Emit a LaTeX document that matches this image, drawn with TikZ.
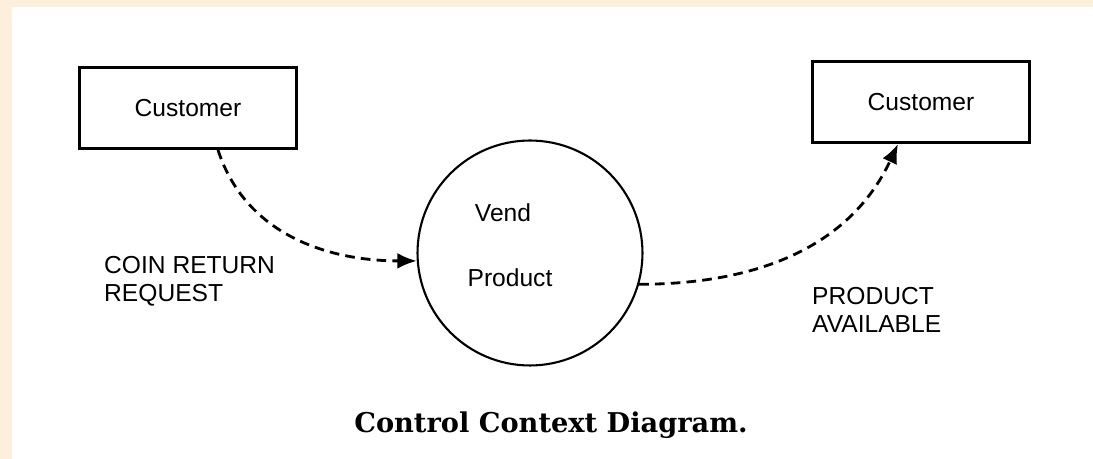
\documentclass[tikz,border=0pt]{standalone}
\usepackage{fontspec}
\setsansfont{Liberation Sans}
\newfontfamily\captionfont{DejaVu Serif}
\usepackage{tikz}
\usetikzlibrary{arrows.meta,positioning,shapes.geometric}
\definecolor{paper}{RGB}{252,239,220}

\begin{document}
\begin{tikzpicture}[
    x=0.02cm, y=0.02cm,
    entity/.style={draw, line width=1.7pt, minimum width=4.36cm, minimum height=1.62cm, font=\sffamily\fontsize{14}{16}\selectfont},
    bubble/.style={draw, circle, line width=1.2pt, minimum size=4.5cm, inner sep=0pt},
    label/.style={font=\sffamily\fontsize{14}{16}\selectfont, align=left, anchor=west},
    flow/.style={line width=1.6pt, dash pattern=on 5.5pt off 3.5pt, -{Latex[length=11pt,width=9pt]}},
  ]
  % Page and scan border
  \fill[paper] (0,0) rectangle (1093,459);
  \fill[white] (12,0) rectangle (1093,452);
  \useasboundingbox (0,0) rectangle (1093,459);

  % Terminators and process
  \node[entity] (src) at (188,351) {Customer};
  \node[entity] (dst) at (921,357) {Customer};
  \node[bubble] (vend) at (530,206) {};
  \node[font=\sffamily\fontsize{14}{16}\selectfont] (vendtop) at (503,246) {Vend};
  \node[font=\sffamily\fontsize{14}{16}\selectfont] (vendbot) at (510,181) {Product};

  % Control flows
  \draw[flow] ([xshift=0.6cm]src.south) to[out=-72, in=180] (vend.184);
  \draw[flow] (vend.-16) to[out=0, in=-115] ([xshift=-0.46cm]dst.south);

  % Flow labels
  \node[label] (coin) at (98,178) {COIN RETURN\\REQUEST};
  \node[label] (avail) at (806,149) {PRODUCT\\AVAILABLE};

  % Caption
  \node[font=\captionfont\bfseries\fontsize{15.5}{18}\selectfont] (cap) at (551,34) {Control Context Diagram.};
\end{tikzpicture}
\end{document}
